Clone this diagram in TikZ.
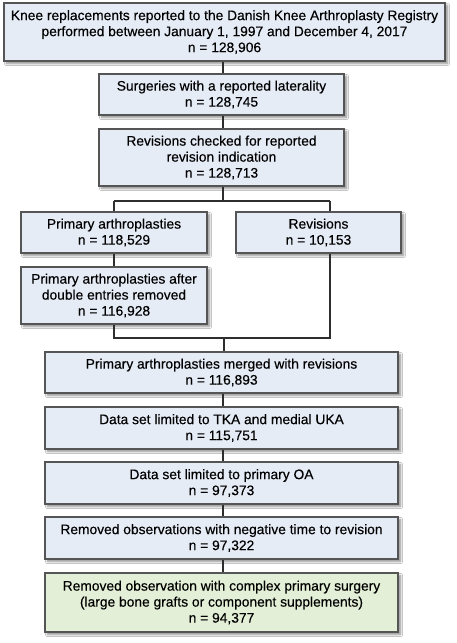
\documentclass[tikz,border=0pt]{standalone}
\usepackage{fontspec}
\setmainfont{Liberation Sans}[FakeBold=0.3]
\usetikzlibrary{shadows.blur}
\definecolor{boxblue}{HTML}{E6ECF6}
\definecolor{boxgreen}{HTML}{E3EFD6}
\definecolor{boxline}{HTML}{555555}
\definecolor{conn}{HTML}{2E2E2E}
\begin{document}
\begin{tikzpicture}[x=1pt,y=-1pt,
  flowbox/.style={draw=boxline, line width=1.1pt, fill=boxblue, align=center,
    inner sep=0pt, font=\fontsize{13.8}{16}\selectfont,
    blur shadow={shadow xshift=2.5pt, shadow yshift=-2.5pt, shadow blur steps=6, shadow opacity=45}},
  connector/.style={draw=conn, line width=2pt}]
\useasboundingbox[fill=white] (0,0) rectangle (456,643);
\node[flowbox, minimum width=441pt, minimum height=58pt] (b1) at (224.5,32)
  {Knee replacements reported to the Danish Knee Arthroplasty Registry\\performed between January 1, 1997 and December 4, 2017\\n = 128,906};
\node[flowbox, minimum width=245pt, minimum height=41pt] (b2) at (221.5,94.5)
  {Surgeries with a reported laterality\\n = 128,745};
\node[flowbox, minimum width=245pt, minimum height=57pt] (b3) at (221.5,157.5)
  {Revisions checked for reported\\revision indication\\n = 128,713};
\node[flowbox, minimum width=186pt, minimum height=41pt] (prim) at (114,232.5)
  {Primary arthroplasties\\n = 118,529};
\node[flowbox, minimum width=165pt, minimum height=41pt] (rev) at (318.5,232.5)
  {Revisions\\n = 10,153};
\node[flowbox, minimum width=186pt, minimum height=57pt] (primafter) at (114,295.5)
  {Primary arthroplasties after\\double entries removed\\n = 116,928};
\node[flowbox, minimum width=353pt, minimum height=41pt] (merged) at (221.5,372.5)
  {Primary arthroplasties merged with revisions\\n = 116,893};
\node[flowbox, minimum width=353pt, minimum height=42pt] (tka) at (221.5,428)
  {Data set limited to TKA and medial UKA\\n = 115,751};
\node[flowbox, minimum width=353pt, minimum height=42pt] (oa) at (221.5,483)
  {Data set limited to primary OA\\n = 97,373};
\node[flowbox, minimum width=353pt, minimum height=42pt] (neg) at (221.5,538)
  {Removed observations with negative time to revision\\n = 97,322};
\node[flowbox, fill=boxgreen, minimum width=353pt, minimum height=59pt] (final) at (221.5,602.5)
  {Removed observation with complex primary surgery\\(large bone grafts or component supplements)\\n = 94,377};
% connectors
\coordinate (c) at (223,0);
\coordinate (split) at (223,201);
\coordinate (ltop) at (114,201);
\coordinate (rtop) at (330,201);
\coordinate (lbot) at (114,338);
\coordinate (rbot) at (330,338);
\coordinate (join) at (224,338);
\draw[connector] (c |- b1.south) -- (c |- b2.north);
\draw[connector] (c |- b2.south) -- (c |- b3.north);
\draw[connector] (c |- b3.south) -- (split);
\draw[connector] (ltop) -- (rtop);
\draw[connector] (ltop) -- (prim.north);
\draw[connector] (rtop) -- (rtop |- rev.north);
\draw[connector] (prim.south) -- (primafter.north);
\draw[connector] (primafter.south) -- (lbot) -- (rbot) -- (rtop |- rev.south);
\draw[connector] (join) -- (join |- merged.north);
\draw[connector] (c |- merged.south) -- (c |- tka.north);
\draw[connector] (c |- tka.south) -- (c |- oa.north);
\draw[connector] (c |- oa.south) -- (c |- neg.north);
\draw[connector] (c |- neg.south) -- (c |- final.north);
\end{tikzpicture}
\end{document}
